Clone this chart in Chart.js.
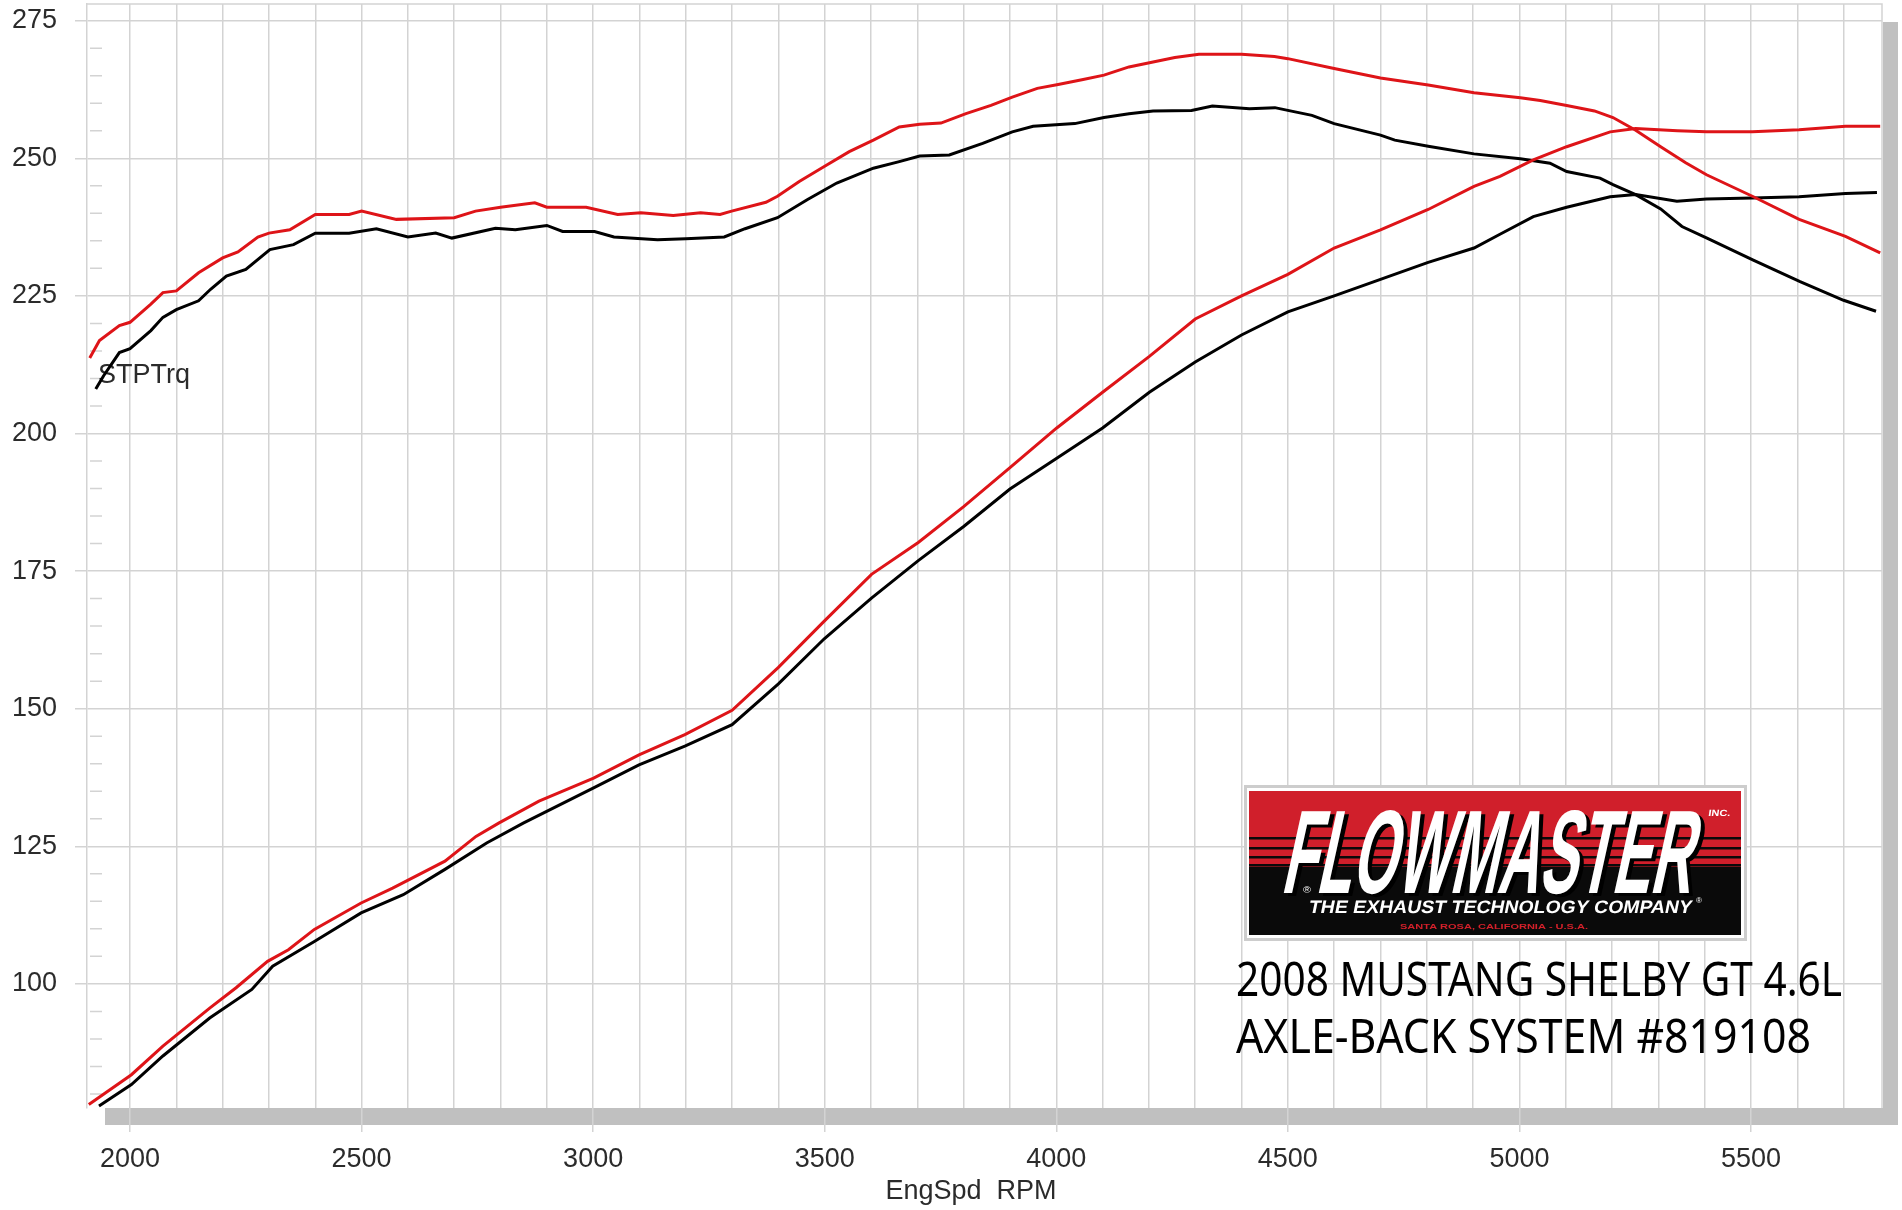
<!DOCTYPE html>
<html>
<head>
<meta charset="utf-8">
<title>2008 Mustang Shelby GT dyno</title>
<script src="https://cdn.jsdelivr.net/npm/chart.js@4.4.1/dist/chart.umd.min.js"></script>
<style>
    html, body { margin: 0; padding: 0; background: #fff; }
</style>
</head>
<body>
<canvas id="dyno" width="1902" height="1210"></canvas>
<script>
// valores (rpm / lb-ft / hp)
const redTqRpm = [1913,1934,1977,2000,2045,2071,2100,2148,2200,2233,2276,2300,2345,2400,2473,2500,2575,2700,2746,2800,2874,2900,2985,3053,3103,3173,3232,3274,3299,3373,3398,3445,3499,3553,3605,3661,3705,3751,3805,3859,3905,3959,4004,4058,4103,4157,4209,4256,4308,4400,4471,4500,4600,4700,4803,4902,5002,5045,5102,5162,5202,5251,5305,5359,5404,5503,5604,5704,5779];
const redTq = [213.7,216.9,219.6,220.2,223.5,225.6,225.9,229.2,231.9,233.0,235.7,236.4,237.0,239.8,239.8,240.4,238.9,239.2,240.4,241.1,241.9,241.1,241.1,239.8,240.1,239.6,240.1,239.8,240.4,242.0,243.1,245.8,248.5,251.2,253.3,255.7,256.2,256.4,258.1,259.6,261.1,262.7,263.4,264.3,265.1,266.6,267.5,268.3,268.9,268.9,268.5,268.1,266.3,264.6,263.3,261.9,261.0,260.5,259.6,258.6,257.4,255.1,252.1,249.2,247.0,243.1,238.9,235.8,232.8];

const blackTqRpm = [1926,1943,1977,2000,2045,2071,2100,2148,2174,2208,2250,2302,2353,2400,2473,2532,2600,2660,2695,2789,2832,2900,2934,3003,3045,3139,3200,3283,3328,3398,3463,3526,3605,3661,3705,3769,3841,3905,3950,4040,4103,4157,4209,4292,4337,4417,4472,4500,4552,4600,4700,4731,4803,4902,5002,5066,5102,5174,5202,5251,5305,5351,5405,5505,5606,5700,5770];
const blackTq = [208.1,210.5,214.7,215.4,218.7,221.1,222.5,224.1,226.2,228.6,229.8,233.4,234.3,236.4,236.4,237.2,235.7,236.4,235.5,237.3,237.0,237.8,236.7,236.7,235.7,235.2,235.4,235.7,237.2,239.2,242.5,245.5,248.2,249.4,250.4,250.6,252.7,254.8,255.8,256.3,257.4,258.1,258.6,258.7,259.5,259.0,259.2,258.7,257.8,256.3,254.2,253.3,252.2,250.8,249.9,249.1,247.6,246.4,245.2,243.4,240.8,237.6,235.5,231.5,227.6,224.2,222.2];

const redHpRpm = [1911,2003,2071,2172,2229,2297,2342,2398,2499,2567,2680,2747,2796,2883,3001,3099,3198,3300,3400,3499,3601,3702,3800,3900,4001,4100,4201,4300,4400,4500,4600,4700,4803,4902,4958,5030,5102,5196,5251,5341,5404,5503,5604,5704,5779];
const redHp = [78.1,83.5,88.7,95.6,99.3,104.1,106.2,109.9,114.7,117.4,122.3,126.8,129.2,133.2,137.4,141.6,145.3,149.7,157.5,165.9,174.4,180.2,186.7,193.8,201.0,207.5,214.0,220.8,225.0,228.9,233.7,237.0,240.7,244.9,246.7,249.7,252.1,254.8,255.4,255.0,254.8,254.8,255.2,255.8,255.8];

const blackHpRpm = [1933,2003,2071,2172,2263,2308,2398,2499,2590,2680,2770,2849,3001,3099,3198,3300,3400,3499,3601,3702,3800,3900,4001,4100,4201,4300,4400,4500,4600,4700,4803,4902,4958,5030,5102,5196,5251,5340,5404,5503,5604,5704,5772];
const blackHp = [77.8,81.7,86.9,93.8,99.0,103.2,107.7,112.9,116.2,120.8,125.6,129.2,135.6,139.8,143.2,147.1,154.5,162.7,170.1,176.9,183.1,189.9,195.5,201.0,207.5,213.0,217.9,222.1,225.0,228.0,231.1,233.7,236.2,239.4,241.1,243.0,243.4,242.2,242.6,242.8,243.0,243.6,243.8];

const yTicks = [100, 125, 150, 175, 200, 225, 250, 275];
const xLabels = [2000, 2500, 3000, 3500, 4000, 4500, 5000, 5500];
const xTitle = 'EngSpd  RPM';
const captionLines = ['2008 MUSTANG SHELBY GT 4.6L', 'AXLE-BACK SYSTEM #819108'];

const RED = '#de1418';
const GRID = '#d3d3d3';
const TEXT = '#2b2b2b';

// lineas de rejilla cada 100 rpm
const xGrid = [];
for (let v = 2000; v <= 5700; v += 100) xGrid.push(v);

const pts = (xs, ys) => xs.map((x, i) => ({ x: x, y: ys[i] }));

// texto ajustado a un ancho, con inclinacion opcional
function fitText(ctx, text, x, base, width, font, color, skew) {
    ctx.save();
    ctx.font = font;
    const w = ctx.measureText(text).width;
    ctx.setTransform(width / w, 0, -(skew || 0), 1, x, base);
    ctx.fillStyle = color;
    ctx.textBaseline = 'alphabetic';
    ctx.fillText(text, 0, 0);
    ctx.restore();
}

function drawLogo(ctx) {
    ctx.save();
    ctx.fillStyle = '#cdcdcd';
    ctx.fillRect(1244, 785, 503, 156);
    ctx.fillStyle = '#fff';
    ctx.fillRect(1247, 788, 497, 150);
    ctx.fillStyle = '#d01f2b';
    ctx.fillRect(1249, 791, 492, 78);
    ctx.fillStyle = '#0a0a0a';
    ctx.fillRect(1249, 867, 492, 68);
    [837, 847, 856, 864].forEach(y => ctx.fillRect(1249, y, 492, 2.5));
    ctx.restore();

    // sombra negra y texto blanco
    fitText(ctx, 'FLOWMASTER', 1284, 896, 410, 'bold 119px "Liberation Sans"', '#000', 0.22);
    fitText(ctx, 'FLOWMASTER', 1280, 893, 410, 'bold 119px "Liberation Sans"', '#fff', 0.22);
    fitText(ctx, 'INC.', 1708, 816, 22, 'bold 9px "Liberation Sans"', '#fff', 0.15);
    fitText(ctx, '\u00AE', 1303, 893, 8, '9px "Liberation Sans"', '#fff', 0);
    fitText(ctx, 'THE EXHAUST TECHNOLOGY COMPANY', 1308, 913, 383, 'bold 18px "Liberation Sans"', '#fff', 0.2);
    fitText(ctx, '\u00AE', 1696, 903, 6, '8px "Liberation Sans"', '#fff', 0);
    fitText(ctx, 'SANTA ROSA, CALIFORNIA - U.S.A.', 1400, 929, 188, 'bold 8px "Liberation Sans"', '#d3202a', 0);
}

const chrome = {
    id: 'chrome',
    beforeDraw(chart) {
        const { ctx, chartArea: a } = chart;
        ctx.save();
        ctx.fillStyle = '#fff';
        ctx.fillRect(0, 0, chart.width, chart.height);
        // sombra gris del marco
        ctx.fillStyle = '#c0c0c0';
        ctx.fillRect(a.left + 18, a.bottom, a.right + 16 - (a.left + 18), 17);
        ctx.fillRect(a.right + 1, a.top + 18, 15, a.bottom + 17 - (a.top + 18));
        ctx.restore();
    },
    beforeDatasetsDraw(chart) {
        const { ctx, chartArea: a, scales: { x, y } } = chart;
        ctx.save();
        ctx.strokeStyle = GRID;
        ctx.lineWidth = 1.5;
        ctx.beginPath();
        for (let v = 80; v < 278; v += 5) {
            if (v % 25 === 0) continue;
            const py = y.getPixelForValue(v);
            ctx.moveTo(a.left + 3, py);
            ctx.lineTo(a.left + 15, py);
        }
        ctx.moveTo(a.left, a.top);
        ctx.lineTo(a.right, a.top);
        ctx.lineTo(a.right, a.bottom);
        ctx.stroke();

        ctx.fillStyle = TEXT;
        ctx.font = '27px "Liberation Sans"';
        ctx.textBaseline = 'alphabetic';
        ctx.fillText('STPTrq', x.getPixelForValue(1931), y.getPixelForValue(209.2));

        // titulo del eje x, algo a la izquierda del centro como en el original
        ctx.textAlign = 'center';
        ctx.textBaseline = 'middle';
        ctx.fillText(xTitle, x.getPixelForValue(3816), chart.height - 18);
        ctx.restore();
    },
    afterDraw(chart) {
        const ctx = chart.ctx;
        drawLogo(ctx);
        fitText(ctx, captionLines[0], 1236, 996, 606, '48px "Noto Sans"', '#000', 0);
        fitText(ctx, captionLines[1], 1236, 1053, 575, '48px "Noto Sans"', '#000', 0);
    }
};

const tickFont = { family: 'Liberation Sans', size: 27 };

new Chart(document.getElementById('dyno'), {
    type: 'line',
    data: {
        datasets: [
            { label: 'Torque new', data: pts(redTqRpm, redTq), borderColor: RED },
            { label: 'HP new', data: pts(redHpRpm, redHp), borderColor: RED },
            { label: 'Torque stock', data: pts(blackTqRpm, blackTq), borderColor: '#000' },
            { label: 'HP stock', data: pts(blackHpRpm, blackHp), borderColor: '#000' }
        ]
    },
    options: {
        responsive: false,
        animation: false,
        devicePixelRatio: 1,
        parsing: false,
        layout: { padding: { top: 4, right: 20, left: 0, bottom: 0 } },
        elements: {
            point: { radius: 0 },
            line: { tension: 0, borderWidth: 3, fill: false }
        },
        plugins: {
            legend: { display: false },
            tooltip: { enabled: false }
        },
        scales: {
            x: {
                type: 'linear',
                min: 1907.1,
                max: 5782.9,
                afterBuildTicks: s => { s.ticks = xGrid.map(v => ({ value: v })); },
                afterFit: s => { s.height = 102; s.paddingLeft = 0; s.paddingRight = 0; },
                grid: {
                    color: GRID,
                    lineWidth: 1.5,
                    tickLength: 24,
                    tickColor: c => (c.tick && xLabels.includes(c.tick.value)) ? GRID : 'rgba(0,0,0,0)'
                },
                border: { display: false },
                ticks: {
                    autoSkip: false,
                    maxRotation: 0,
                    padding: 11,
                    color: TEXT,
                    font: tickFont,
                    callback: v => xLabels.includes(v) ? String(v) : ''
                }
            },
            y: {
                min: 77.45,
                max: 278.03,
                afterBuildTicks: s => { s.ticks = yTicks.map(v => ({ value: v })); },
                afterFit: s => { s.width = 87; s.paddingTop = 0; s.paddingBottom = 0; },
                grid: { color: GRID, lineWidth: 1.5, tickLength: 12 },
                border: { color: GRID, width: 1.5 },
                ticks: {
                    padding: 18,
                    color: TEXT,
                    font: tickFont,
                    callback: v => String(v)
                }
            }
        }
    },
    plugins: [chrome]
});
</script>
</body>
</html>
